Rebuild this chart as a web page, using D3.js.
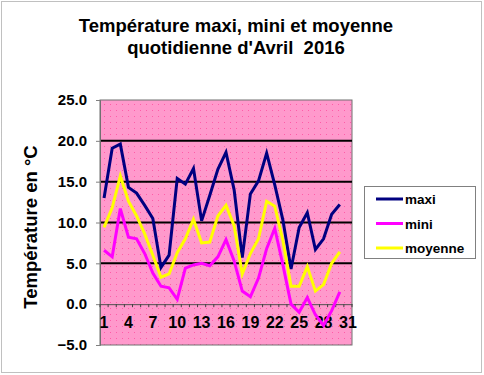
<!DOCTYPE html>
<html>
	<head>
		<meta charset="utf-8">
		<script src="https://d3js.org/d3.v7.min.js"></script>
		<style>
			body {
				margin: 0;
				background: #ffffff;
			}
			text {
				font-family: 'Liberation Sans', Arial, sans-serif;
			}
		</style>
	</head>
	<body>
		<script type="text/javascript">
			// Days of April 2016 (the axis keeps 31 slots, day 31 is empty)
			var days = d3.range(1, 32);
			var dayLabels = [1, 4, 7, 10, 13, 16, 19, 22, 25, 28, 31];

			var maxi = [13.0, 19.1, 19.6, 14.3, 13.6, 12.1, 10.5, 4.5, 6.0, 15.4,
				14.7, 16.6, 10.2, 13.3, 16.5, 18.6, 14.0, 5.7, 13.5, 15.1,
				18.5, 14.6, 10.3, 4.3, 9.4, 11.2, 6.7, 8.0, 11.0, 12.2];
			var mini = [6.6, 5.8, 11.7, 8.2, 8.0, 6.2, 3.8, 2.2, 2.0, 0.6,
				4.4, 4.8, 5.0, 4.7, 5.8, 7.9, 5.3, 1.6, 0.9, 3.2,
				6.8, 9.3, 4.8, 0.0, -1.0, 0.8, -1.3, -2.6, -0.8, 1.5];
			var moyenne = [9.4, 11.8, 15.7, 12.6, 10.8, 8.6, 6.0, 3.3, 3.7, 6.3,
				8.0, 10.4, 7.5, 7.6, 10.8, 12.1, 9.6, 3.7, 6.2, 8.0,
				12.6, 12.0, 7.8, 2.2, 2.2, 4.6, 1.6, 2.4, 5.0, 6.4];
			var yTicks = [-5, 0, 5, 10, 15, 20, 25];

			var series = [
				{name: 'maxi', values: maxi, color: '#000080'},
				{name: 'mini', values: mini, color: '#ff00ff'},
				{name: 'moyenne', values: moyenne, color: '#ffff00'}
			];

			var width = 484,
				height = 375;
			var plot = {left: 100, top: 100, right: 352, bottom: 345};

			var svg = d3.select('body')
				.append('svg')
				.attr('width', width)
				.attr('height', height);

			// Pink dotted fill of the plot area
			var pat = svg.append('defs')
				.append('pattern')
				.attr('id', 'dots')
				.attr('width', 6)
				.attr('height', 6)
				.attr('patternUnits', 'userSpaceOnUse');
			pat.append('rect')
				.attr('width', 6)
				.attr('height', 6)
				.attr('fill', '#ff99cc');
			pat.append('rect')
				.attr('x', 2)
				.attr('y', 2)
				.attr('width', 1)
				.attr('height', 1)
				.attr('fill', '#ff5ca8');

			// Outer dotted frame
			svg.append('rect')
				.attr('x', 1.5)
				.attr('y', 1.5)
				.attr('width', 480)
				.attr('height', 371)
				.attr('fill', 'none')
				.attr('stroke', '#808080')
				.attr('stroke-dasharray', '1,1');

			var x = d3.scaleBand()
				.domain(days)
				.range([plot.left, plot.right]);
			var y = d3.scaleLinear()
				.domain([-5, 25])
				.range([plot.bottom, plot.top]);

			svg.append('rect')
				.attr('x', plot.left)
				.attr('y', plot.top)
				.attr('width', plot.right - plot.left)
				.attr('height', plot.bottom - plot.top)
				.attr('fill', 'url(#dots)')
				.attr('stroke', '#707070')
				.attr('stroke-width', 1);

			// Black gridlines
			svg.selectAll('.grid')
				.data([5, 10, 15, 20])
				.enter()
				.append('line')
				.attr('x1', plot.left)
				.attr('x2', plot.right)
				.attr('y1', function (d) { return y(d); })
				.attr('y2', function (d) { return y(d); })
				.attr('stroke', '#000000')
				.attr('stroke-width', 2);

			// Y axis
			var yAxis = svg.append('g')
				.attr('transform', 'translate(' + plot.left + ',0)')
				.call(d3.axisLeft(y)
					.tickValues(yTicks)
					.tickSize(4)
					.tickPadding(9)
					.tickFormat(d3.format('.1f')));
			yAxis.select('.domain').attr('stroke', '#707070');
			yAxis.selectAll('line').attr('stroke', '#808080');
			yAxis.selectAll('text')
				.style('font-size', '15px')
				.style('font-weight', 'bold')
				.style('font-family', "'Liberation Sans', Arial, sans-serif")
				.attr('fill', '#000000');

			// X axis sits on the zero line
			var xAxis = svg.append('g')
				.attr('transform', 'translate(0,' + y(0) + ')')
				.call(d3.axisBottom(x).tickSize(0).tickFormat(''));
			xAxis.select('.domain').attr('stroke', '#505050');

			svg.selectAll('.xtick')
				.data(days.concat([32]))
				.enter()
				.append('line')
				.attr('x1', function (d) { return d > 31 ? plot.right : x(d); })
				.attr('x2', function (d) { return d > 31 ? plot.right : x(d); })
				.attr('y1', y(0))
				.attr('y2', y(0) + 3)
				.attr('stroke', '#404040');

			svg.selectAll('.xlabel')
				.data(dayLabels)
				.enter()
				.append('text')
				.attr('x', function (d) { return x(d) + x.bandwidth() / 2; })
				.attr('y', y(0) + 24)
				.attr('text-anchor', 'middle')
				.style('font-size', '16px')
				.style('font-weight', 'bold')
				.text(function (d) { return d; });

			// Series lines
			var line = d3.line()
				.x(function (d, i) { return x(days[i]) + x.bandwidth() / 2; })
				.y(function (d) { return y(d); });

			svg.selectAll('.serie')
				.data(series)
				.enter()
				.append('path')
				.attr('d', function (s) { return line(s.values); })
				.attr('fill', 'none')
				.attr('stroke', function (s) { return s.color; })
				.attr('stroke-width', 3)
				.attr('stroke-linejoin', 'miter');

			// Titles
			svg.selectAll('.title')
				.data(['Température maxi, mini et moyenne', "quotidienne d'Avril\u00a0 2016"])
				.enter()
				.append('text')
				.attr('x', 236)
				.attr('y', function (d, i) { return 32 + i * 21.5; })
				.attr('text-anchor', 'middle')
				.style('font-size', '18.5px')
				.style('font-weight', 'bold')
				.text(function (d) { return d; });

			svg.append('text')
				.attr('transform', 'translate(37,227) rotate(-90)')
				.attr('text-anchor', 'middle')
				.style('font-size', '18.5px')
				.style('font-weight', 'bold')
				.text('Température en °C');

			// Legend
			var legend = svg.append('g');
			legend.append('rect')
				.attr('x', 364.5)
				.attr('y', 186.5)
				.attr('width', 111)
				.attr('height', 72)
				.attr('fill', '#ffffff')
				.attr('stroke', '#808080');
			var item = legend.selectAll('.item')
				.data(series)
				.enter()
				.append('g')
				.attr('transform', function (d, i) {
					return 'translate(0,' + (199 + i * 24.5) + ')';
				});
			item.append('line')
				.attr('x1', 376)
				.attr('x2', 403)
				.attr('stroke', function (d) { return d.color; })
				.attr('stroke-width', 3);
			item.append('text')
				.attr('x', 405)
				.attr('y', 5)
				.style('font-size', '13.5px')
				.style('font-weight', 'bold')
				.text(function (d) { return d.name; });
		</script>
	</body>
</html>
